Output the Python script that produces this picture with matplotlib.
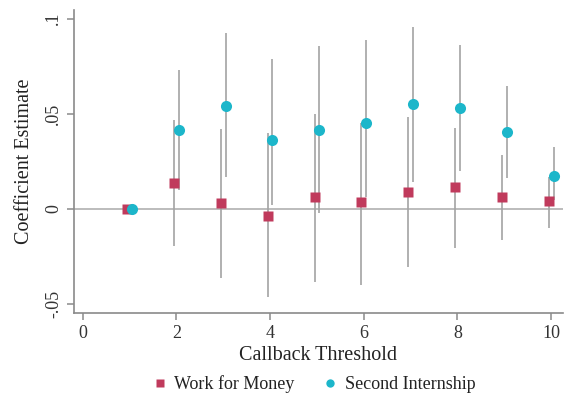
import numpy as np
import matplotlib.pyplot as plt

plt.rcParams['font.family'] = ['Liberation Serif', 'DejaVu Serif']

# callback thresholds
thresholds = [1, 2, 3, 4, 5, 6, 7, 8, 9, 10]

# Work for Money: estimate, lower CI, upper CI
wfm_est = [0.0, 0.0136, 0.0027, -0.0038, 0.0062, 0.0034, 0.0088, 0.0111, 0.0062, 0.0039]
wfm_lo = [0.0, -0.0197, -0.0366, -0.0467, -0.0385, -0.0403, -0.031, -0.021, -0.0166, -0.0101]
wfm_hi = [0.0, 0.0466, 0.042, 0.0396, 0.050, 0.0448, 0.0483, 0.0425, 0.0282, 0.0167]

# Second Internship: estimate, lower CI, upper CI
si_est = [0.0, 0.0413, 0.0539, 0.036, 0.0413, 0.0452, 0.0548, 0.0527, 0.0401, 0.0169]
si_lo = [0.0, 0.0097, 0.0164, 0.0018, -0.0025, 0.006, 0.014, 0.0199, 0.0159, 0.0045]
si_hi = [0.0, 0.0729, 0.0922, 0.0785, 0.0855, 0.0887, 0.0954, 0.086, 0.0646, 0.0322]

x = np.array(thresholds, dtype=float)
off = 0.05
red = '#C03A5C'
cyan = '#1CB6CA'
grey = '#A3A3A3'

fig = plt.figure(figsize=(5.64, 3.99), dpi=100)
ax = fig.add_axes([0.131, 0.2155, 0.867, 0.7595])

ax.axhline(0, color='#B0B0B0', lw=1.2, zorder=1)

ax.vlines(x - off, wfm_lo, wfm_hi, color=grey, lw=1.2, zorder=2)
ax.vlines(x + off, si_lo, si_hi, color=grey, lw=1.2, zorder=2)
ax.plot(x - off, wfm_est, 's', color=red, ms=7, mec='none', zorder=3, label='Work for Money')
ax.plot(x + off, si_est, 'o', color=cyan, ms=8, mec='none', zorder=4, label='Second Internship')

ax.set_xlim(-0.19, 10.25)
ax.set_ylim(-0.055, 0.1045)
ax.set_xticks([0, 2, 4, 6, 8, 10])
ax.set_yticks([-0.05, 0, 0.05, 0.1])
ax.set_yticklabels(['-.05', '0', '.05', '.1'], rotation=90, va='center')

for s in ['top', 'right']:
    ax.spines[s].set_visible(False)
for s in ['left', 'bottom']:
    ax.spines[s].set_color('#8A8A8A')
    ax.spines[s].set_linewidth(1.2)
ax.tick_params(colors='#8A8A8A', labelcolor='#333333', labelsize=13, length=5, width=1.1)

ax.set_xlabel('Callback Threshold', fontsize=14.5, color='#222222', labelpad=3)
ax.set_ylabel('Coefficient Estimate', fontsize=14.5, color='#222222', labelpad=8)

fig.legend(loc='center', bbox_to_anchor=(0.555, 0.037), ncol=2, frameon=False,
           fontsize=13, handletextpad=0.3, columnspacing=1.5, markerscale=0.75,
           handlelength=1.0, labelcolor='#222222')

fig.savefig('out.png', dpi=100)
